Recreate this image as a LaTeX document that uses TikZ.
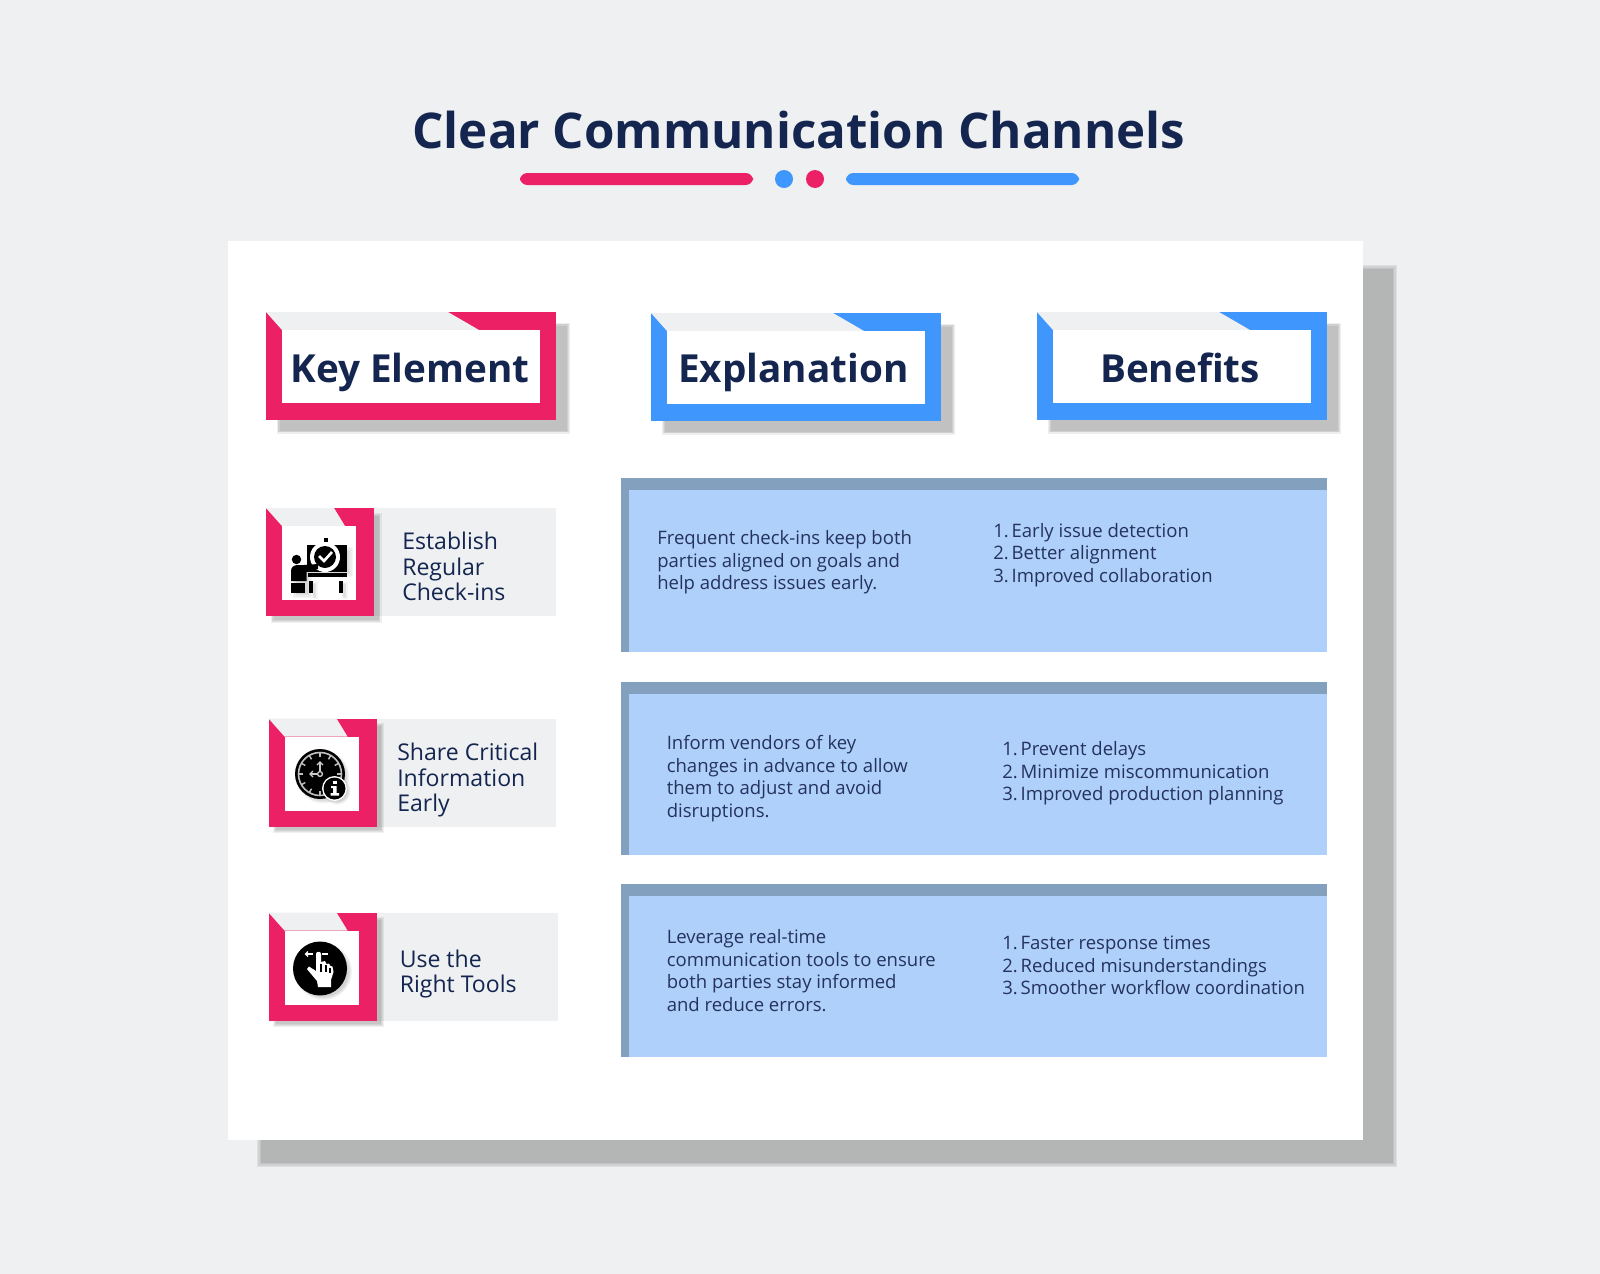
\documentclass[tikz,border=0pt]{standalone}
\usepackage{fontspec}
\setmainfont{Open Sans}
\definecolor{pagebg}{HTML}{EEF0F2}
\definecolor{navy}{HTML}{14264F}
\definecolor{bodyc}{HTML}{24335E}
\definecolor{pinkc}{HTML}{EC2064}
\definecolor{bluec}{HTML}{3F97FD}
\definecolor{cellc}{HTML}{AFD0FA}
\definecolor{stripec}{HTML}{83A0BF}
\newcommand{\nm}{\kern-1.5pt\ }
\tikzset{
  x=0.75pt,y=-0.75pt,
  titletext/.style={inner sep=0,text=navy,font=\fontsize{36.95}{45}\selectfont\bfseries},
  headtext/.style={inner sep=0,anchor=base,text=navy,font=\fontsize{29}{36}\selectfont\bfseries},
  labeltext/.style={inner sep=0,anchor=west,align=left,text=navy,font=\fontsize{17.3}{19.2}\selectfont},
  bodytext/.style={inner sep=0,anchor=west,align=left,text=bodyc,font=\fontsize{13.9}{16.85}\selectfont},
}
% blurred rectangle: #1 x1, #2 y1, #3 x2, #4 y2, #5 layer opacity, #6 blur radius
\newcommand{\softrect}[6]{%
  \foreach \k in {-1,-0.33,0.33,1}{%
    \fill[black,opacity=#5] ({#1-\k*#6},{#2-\k*#6}) rectangle ({#3+\k*#6},{#4+\k*#6});}}
% blurred disc: #1 x, #2 y, #3 radius, #4 layer opacity
\newcommand{\softdisc}[4]{%
  \foreach \k in {-1.5,-0.5,0.5,1.5}{\fill[black,opacity=#4] (#1,#2) circle ({#3+\k});}}
% header frame: #1 x, #2 y, #3 colour
\newcommand{\headframe}[3]{%
  \begin{scope}[shift={(#1,#2)}]
    \softrect{12}{12}{302}{120}{0.065}{1.5}
    \fill[#3] (0,0) rectangle (290,108);
    \fill[pagebg] (0,0) -- (16,18) -- (213,18) -- (182,0) -- cycle;
    \fill[white] (16,18) rectangle (274,91);
  \end{scope}}
% small frame: #1 x, #2 y, #3 right end of the grey band relative to x
\newcommand{\iconframe}[3]{%
  \begin{scope}[shift={(#1,#2)}]
    \fill[pagebg] (100,0) rectangle (#3,108);
    \softrect{6}{6}{114}{113}{0.06}{1.5}
    \fill[pinkc] (0,0) rectangle (108,108);
    \fill[pagebg] (0,0) -- (16,18) -- (79,18) -- (68,0) -- cycle;
    \fill[white] (16,18) rectangle (90,92);
  \end{scope}}
\newcommand{\bluecell}[2]{%
  \fill[cellc] (621,#1) rectangle (1327,#2);
  \fill[stripec] (621,#1) rectangle (1327,{#1+12});
  \fill[stripec] (621,#1) rectangle (629,#2);}
\begin{document}
\begin{tikzpicture}
\useasboundingbox (0,0) rectangle (1600,1274);
\fill[pagebg] (0,0) rectangle (1600,1274);

% title
\node[titletext] (title) at (799,130) {Clear Communication Channels};
\fill[pinkc,rounded corners=5.5] (520,173) rectangle (753,185);
\fill[bluec,rounded corners=5.5] (846,173) rectangle (1079,185);
\fill[bluec] (784,179) circle (9);
\fill[pinkc] (815,179) circle (9);

% panel
\softrect{259}{267}{1395}{1165}{0.066}{2}
\fill[white] (227.5,241) rectangle (1363,1140);

% headers
\headframe{266}{312}{pinkc}
\headframe{651}{313}{bluec}
\headframe{1037}{312}{bluec}
\node[headtext] (hkey) at (410,382.5) {Key Element};
\node[headtext] (hexp) at (793.5,382.5) {Explanation};
\node[headtext] (hben) at (1180,382.5) {Benefits};

% row frames
\iconframe{266}{508}{290}
\iconframe{268.5}{718.5}{287.5}
\iconframe{268.5}{912.5}{289.5}
\node[labeltext] (l1) at (402,566.5) {Establish\\Regular\\Check-ins};
\node[labeltext] (l2) at (397,780) {Share Critical\\Information\\Early};
\node[labeltext] (l3) at (399.5,974) {Use the\\Right Tools};

% blue cells
\bluecell{478}{652}
\bluecell{681.5}{855}
\bluecell{884}{1057}
\node[bodytext] (e1) at (657,562.5) {Frequent check-ins keep both\\parties aligned on goals and\\help address issues early.};
\node[bodytext] (b1) at (993,555) {1.\nm Early issue detection\\2.\nm Better alignment\\3.\nm Improved collaboration};
\node[bodytext] (e2) at (666.5,778.5) {Inform vendors of key\\changes in advance to allow\\them to adjust and avoid\\disruptions.};
\node[bodytext] (b2) at (1002,773.5) {1.\nm Prevent delays\\2.\nm Minimize miscommunication\\3.\nm Improved production planning};
\node[bodytext] (e3) at (666.5,970.5) {Leverage real-time\\communication tools to ensure\\both parties stay informed\\and reduce errors.};
\node[bodytext] (b3) at (1002,965.5) {1.\nm Faster response times\\2.\nm Reduced misunderstandings\\3.\nm Smoother workflow coordination};

% icon 1: presenter at a board with a stopwatch
\softrect{310}{549}{351}{575}{0.035}{2}
\softrect{295}{570}{310}{596}{0.04}{2}
\softrect{313}{583}{316}{597}{0.04}{1.5}
\softrect{343}{583}{346}{597}{0.04}{1.5}
\fill[black] (306.5,545) rectangle (346.5,572);
\fill[black] (324,538) rectangle (327.5,542);
\fill[white] (325,557) circle (15);
\fill[black] (325,557) circle (11);
\draw[white,line width=2] (319,556) -- (324,561) -- (332,552);
\fill[black] (308,573) rectangle (346.5,577);
\fill[black] (296.5,559.5) circle (4.7);
\fill[black] (291,583) rectangle (304.5,593);
\fill[black] (291,581) -- (291,571) .. controls (291,567) and (294,565) .. (298,565) -- (304,565) -- (318,564) -- (318,569) -- (306.5,572) -- (306.5,581) -- cycle;
\fill[black] (309,581) rectangle (312.5,593);
\fill[black] (339,581) rectangle (342.5,593);

% icon 2: clock with info badge
\softdisc{323}{777}{25}{0.04}
\softdisc{337}{791}{12}{0.05}
\fill[black] (320,774) circle (25);
\draw[black!25,line width=1.2] (320,774) circle (21.5);
\foreach \a in {0,30,...,330}{\draw[black!25,line width=1.1] (320,774) ++(\a:17) -- ++(\a:4.5);}
\draw[black!20,line width=1.3] (320,774) -- (320,762);
\draw[black!20,line width=1.3] (320,774) -- (310,774);
\draw[black!20,line width=1] (317,765) -- (320,762) -- (323,765);
\draw[black!20,line width=1] (313,771) -- (310,774) -- (313,777);
\fill[black] (320,774) circle (2.4);
\draw[black!20,line width=1] (320,774) circle (2.4);
\fill[white] (334.5,788.5) circle (12.5);
\fill[black] (334.5,788.5) circle (11);
\fill[white] (332.5,780.5) rectangle (336.5,784);
\fill[white] (331,786) rectangle (336.5,788) (333,786) rectangle (336.5,793) (330.5,793) rectangle (339,795.5);

% icon 3: hand gesture
\softdisc{323.5}{971.5}{27}{0.045}
\fill[black] (320,968.5) circle (27);
\fill[white] (316,954) .. controls (316,951) and (321,951) .. (321,954) -- (321,962) -- (325,961) -- (326.5,964) -- (329,963.5) -- (330.5,966) -- (332.5,966.5) -- (333.5,972) -- (331,980) -- (331,987) -- (318,987) -- (317,981) -- (307,969) -- (309,966.5) -- (316,971) -- cycle;
\draw[black,line width=0.8] (321,964) -- (321,972) (326,964.5) -- (326,972) (330,968) -- (330,973);
\draw[white,line width=1] (305.5,954) -- (313,954);
\draw[white,line width=1] (308,951.5) -- (305.5,954) -- (308,956.5);
\draw[white,line width=1] (322,954) -- (328,954);
\end{tikzpicture}
\end{document}
